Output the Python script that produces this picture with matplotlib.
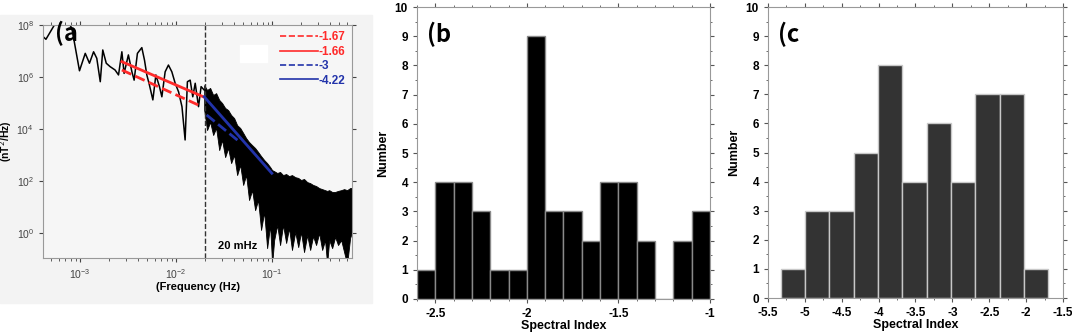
import matplotlib.pyplot as plt
import numpy as np
from matplotlib.patches import Rectangle
from matplotlib.ticker import MultipleLocator, NullLocator, LogLocator

plt.rcParams['font.family'] = ['Liberation Sans', 'DejaVu Sans']

# ---- panel (a): power spectrum ----
freq_low = [4.12e-4, 4.40e-4, 5.39e-4, 6.65e-4, 8.20e-4, 9.84e-4, 1.13e-3, 1.25e-3,
            1.38e-3, 1.49e-3, 1.62e-3, 1.72e-3, 1.87e-3, 2.05e-3, 2.31e-3, 2.51e-3,
            2.72e-3, 2.87e-3, 3.18e-3, 3.46e-3, 3.65e-3, 3.95e-3, 4.39e-3, 4.68e-3,
            4.95e-3, 5.27e-3, 5.72e-3, 6.15e-3, 6.70e-3, 7.10e-3, 7.68e-3, 8.31e-3,
            9.02e-3, 9.77e-3, 1.06e-2, 1.15e-2, 1.24e-2, 1.31e-2, 1.40e-2, 1.49e-2,
            1.58e-2, 1.71e-2, 1.82e-2, 1.96e-2]
# log10 of PSD (nT^2/Hz)
logp_low = [7.55, 7.45, 8.0, 8.46, 7.87, 6.24, 6.91, 6.53, 6.97, 6.72, 5.82, 7.04,
            6.53, 6.40, 6.27, 6.08, 6.97, 6.14, 6.85, 6.20, 5.88, 6.91, 7.13, 6.65,
            6.08, 5.69, 5.12, 6.08, 5.63, 5.24, 6.20, 6.46, 6.20, 5.76, 5.43, 4.86,
            3.58, 5.82, 5.88, 5.24, 5.76, 4.86, 5.63, 5.50]

# dense part above 20 mHz: upper and lower envelope of the black band
freq_band = [0.0196, 0.0210, 0.0226, 0.0243, 0.0261, 0.0281, 0.0301, 0.0324, 0.0348,
             0.0374, 0.0402, 0.0432, 0.0465, 0.0499, 0.0536, 0.0575, 0.0619, 0.0665,
             0.0714, 0.0767, 0.0826, 0.0887, 0.0953, 0.100, 0.105, 0.113, 0.121, 0.130,
             0.140, 0.150, 0.161, 0.174, 0.187, 0.200, 0.215, 0.232, 0.249, 0.267,
             0.287, 0.309, 0.332, 0.356, 0.374, 0.393, 0.422, 0.453, 0.486, 0.524,
             0.562, 0.604, 0.649, 0.681]
logp_top = [5.69, 5.50, 5.58, 5.31, 5.38, 5.12, 5.00, 4.81, 4.73, 4.54, 4.42, 4.15,
            4.04, 3.85, 3.65, 3.50, 3.38, 3.27, 3.12, 2.96, 2.81, 2.69, 2.54, 2.42,
            2.38, 2.31, 2.35, 2.23, 2.27, 2.19, 2.23, 2.15, 2.12, 2.04, 2.08, 1.96,
            1.92, 1.85, 1.81, 1.73, 1.69, 1.65, 1.62, 1.65, 1.58, 1.58, 1.62, 1.65,
            1.69, 1.65, 1.73, 1.73]
logp_bot = [4.73, 3.96, 4.27, 3.77, 4.04, 3.19, 3.58, 2.92, 3.27, 2.69, 3.00, 2.23,
            2.62, 1.85, 2.23, 1.27, 1.65, 0.88, 1.27, 0.12, 0.81, -0.58, 0.31, -1.2,
            -0.27, 0.31, -0.46, 0.31, -0.38, 0.19, -0.65, 0.04, -0.54, 0.04, -0.73,
            -0.08, -0.65, -0.12, -0.46, 0.0, -0.65, -0.27, -1.2, -0.27, -0.58, -0.15,
            -0.46, -0.27, -0.73, -1.2, -0.19, 0.04]

# fitted power laws: endpoints (freq, log10 psd)
fit_labels = ['-1.67', '-1.66', '-3', '-4.22']
fit_freq = [[0.00272, 0.0171], [0.00272, 0.0192], [0.0208, 0.0464], [0.0196, 0.0992]]
fit_logp = [[6.27, 4.92], [6.59, 5.24], [4.54, 3.49], [5.24, 2.30]]
fit_colors = ['#ff2a2a', '#ff2a2a', '#2233aa', '#2233aa']
fit_styles = ['--', '-', '--', '-']

# ---- panel (b) and (c): histograms ----
edges_b = [-2.6, -2.5, -2.4, -2.3, -2.2, -2.1, -2.0, -1.9, -1.8, -1.7, -1.6, -1.5,
           -1.4, -1.3, -1.2, -1.1, -1.0]
counts_b = [1, 4, 4, 3, 1, 1, 9, 3, 3, 2, 4, 4, 2, 0, 2, 3]
ticks_b = [-2.5, -2.0, -1.5, -1.0]
ticklabels_b = ['-2.5', '-2', '-1.5', '-1']

edges_c = [-5.33, -5.0, -4.67, -4.34, -4.01, -3.68, -3.35, -3.02, -2.69, -2.36,
           -2.03, -1.70]
counts_c = [1, 3, 3, 5, 8, 4, 6, 4, 7, 7, 1]
ticks_c = [-5.5, -5.0, -4.5, -4.0, -3.5, -3.0, -2.5, -2.0, -1.5]
ticklabels_c = ['-5.5', '-5', '-4.5', '-4', '-3.5', '-3', '-2.5', '-2', '-1.5']

fig = plt.figure(figsize=(10.72, 3.32), dpi=100)
fig.add_artist(Rectangle((0, 0.087), 0.347, 0.868, transform=fig.transFigure,
                         color='#f3f3f3', zorder=-5))

# (a)
ax1 = fig.add_axes([0.0401, 0.2229, 0.2883, 0.7018])
ax1.set_facecolor('#f6f6f6')
ax1.fill_between(freq_band, 10 ** np.array(logp_bot), 10 ** np.array(logp_top),
                 color='black', lw=0.6)
ax1.plot(freq_low, 10 ** np.array(logp_low), color='black', lw=1.1)
ax1.axvline(0.02, color='#333333', ls='--', lw=1)
handles = []
for fq, lp, c, s, lab in zip(fit_freq, fit_logp, fit_colors, fit_styles, fit_labels):
    h, = ax1.plot(fq, 10 ** np.array(lp), color=c, ls=s, lw=2, label=lab)
    handles.append(h)
ax1.set_xscale('log')
ax1.set_yscale('log')
ax1.set_xlim(4.1e-4, 0.68)
ax1.set_ylim(0.11, 1e8)
ax1.set_yticks([1, 1e2, 1e4, 1e6, 1e8])
ax1.yaxis.set_minor_locator(NullLocator())
ax1.xaxis.set_minor_locator(LogLocator(subs=np.arange(2, 10)))
ax1.tick_params(which='both', top=True, right=True, labelsize=7.5, colors='#444444',
                length=3)
ax1.tick_params(which='minor', length=2)
for sp in ax1.spines.values():
    sp.set_color('#999999')
ax1.set_xlabel('(Frequency (Hz)', fontsize=8, fontweight='bold', labelpad=1)
ax1.set_ylabel('(nT$^2$/Hz)', fontsize=7.5, fontweight='bold', labelpad=2)
ax1.add_patch(Rectangle((0.638, 0.841), 0.087, 0.073, transform=ax1.transAxes,
                        color='white', zorder=3))
ax1.text(0.631, 0.05, '20 mHz', transform=ax1.transAxes, fontsize=8,
         fontweight='bold', ha='center', va='center')
ax1.text(0.04, 1.02, '(a', transform=ax1.transAxes, fontsize=17, va='top',
         family=['Noto Sans CJK JP', 'DejaVu Sans'], fontweight='bold')
leg = ax1.legend(handles=handles, loc='upper right', frameon=False, handlelength=3.2,
                 handletextpad=0.05, labelspacing=0.2, borderaxespad=0.15,
                 labelcolor='linecolor', prop={'weight': 'bold', 'size': 8.5})
for line in leg.get_lines():
    line.set_linewidth(1.2)


def hist_panel(ax, edges, counts, face, edge, ticks, labels, xlim, tag):
    ax.bar(edges[:-1], counts, width=np.diff(edges), align='edge', color=face,
           edgecolor=edge, lw=1)
    ax.set_xlim(*xlim)
    ax.set_ylim(0, 10)
    ax.set_xticks(ticks)
    ax.set_xticklabels(labels)
    ax.set_yticks(range(11))
    ax.yaxis.set_minor_locator(MultipleLocator(0.5))
    ax.xaxis.set_minor_locator(MultipleLocator(0.1))
    ax.tick_params(which='both', top=True, right=True, labelsize=8.5, length=3,
                   colors='#555555', labelcolor='black')
    ax.tick_params(which='minor', length=1.5)
    for t in ax.get_xticklabels() + ax.get_yticklabels():
        t.set_fontweight('bold')
    for sp in ax.spines.values():
        sp.set_color('#999999')
    ax.set_xlabel('Spectral Index', fontsize=9, fontweight='bold', labelpad=0)
    ax.set_ylabel('Number', fontsize=9, fontweight='bold')
    ax.text(0.035, 0.95, tag, transform=ax.transAxes, fontsize=17, va='top',
            family=['Noto Sans CJK JP', 'DejaVu Sans'], fontweight='bold')


ax2 = fig.add_axes([0.389, 0.0994, 0.2733, 0.8795])
hist_panel(ax2, edges_b, counts_b, 'black', '#8a8a8a', ticks_b, ticklabels_b,
           (-2.6, -1.0), '(b')

ax3 = fig.add_axes([0.7164, 0.1024, 0.2752, 0.8765])
hist_panel(ax3, edges_c, counts_c, '#333333', '#c8c8c8', ticks_c, ticklabels_c,
           (-5.5, -1.5), '(c')
ax3.xaxis.set_minor_locator(MultipleLocator(0.25))

fig.savefig('out.png', dpi=100)
